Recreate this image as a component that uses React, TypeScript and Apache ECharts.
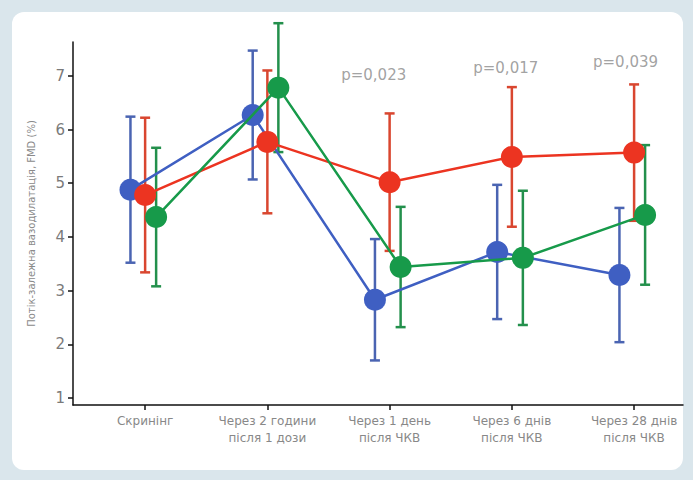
import React, { useEffect, useRef } from "react";
import * as echarts from "echarts";

const categories = [
  "Скринінг",
  "Через 2 години\nпісля 1 дози",
  "Через 1 день\nпісля ЧКВ",
  "Через 6 днів\nпісля ЧКВ",
  "Через 28 днів\nпісля ЧКВ",
];
const yTicks = [1, 2, 3, 4, 5, 6, 7];

const blueMean = [4.88, 6.27, 2.83, 3.72, 3.29];
const blueSD = [1.36, 1.2, 1.13, 1.25, 1.25];
const redMean = [4.78, 5.77, 5.02, 5.49, 5.57];
const redSD = [1.44, 1.33, 1.28, 1.3, 1.27];
const greenMean = [4.37, 6.78, 3.44, 3.61, 4.41];
const greenSD = [1.29, 1.2, 1.12, 1.25, 1.3];

const pLabels = ["p=0,023", "p=0,017", "p=0,039"];
const pCategory = [1.87, 2.95, 3.93];
const pLevel = [7.02, 7.15, 7.26];

const groups = [
  { mean: blueMean, sd: blueSD, offset: -0.12, color: "#3f5fc2", bar: "#4a64b2" },
  { mean: redMean, sd: redSD, offset: 0, color: "#ec3421", bar: "#d9462f" },
  { mean: greenMean, sd: greenSD, offset: 0.09, color: "#179a4a", bar: "#23904c" },
];

export default function App() {
  const ref = useRef<HTMLDivElement>(null);
  useEffect(() => {
    if (!ref.current) return;
    const chart = echarts.init(ref.current, null, { renderer: "svg" });
    const series: any[] = [];
    groups.forEach((g) => {
      series.push({
        type: "custom",
        z: 2,
        data: g.mean.map((m, i) => [i + g.offset, m - g.sd[i], m + g.sd[i]]),
        encode: { x: 0, y: [1, 2] },
        renderItem: (params: any, api: any) => {
          const x = api.value(0);
          const top = api.coord([x, api.value(2)]);
          const bot = api.coord([x, api.value(1)]);
          const w = 5;
          const style = { stroke: g.bar, lineWidth: 2.5 };
          return {
            type: "group",
            children: [
              { type: "line", shape: { x1: top[0], y1: top[1], x2: bot[0], y2: bot[1] }, style },
              { type: "line", shape: { x1: top[0] - w, y1: top[1], x2: top[0] + w, y2: top[1] }, style },
              { type: "line", shape: { x1: bot[0] - w, y1: bot[1], x2: bot[0] + w, y2: bot[1] }, style },
            ],
          };
        },
      });
    });
    groups.forEach((g, k) => {
      series.push({
        type: "line",
        z: 3 + k,
        data: g.mean.map((m, i) => [i + g.offset, m]),
        symbol: "circle",
        symbolSize: 22,
        lineStyle: { color: g.color, width: 2.5 },
        itemStyle: { color: g.color },
      });
    });
    series.push({
      type: "scatter",
      symbolSize: 0,
      z: 10,
      data: pLabels.map((t, i) => ({ value: [pCategory[i], pLevel[i]], name: t })),
      label: {
        show: true,
        position: "inside",
        formatter: (p: any) => p.name,
        color: "#8a8a8a",
        fontSize: 15,
        fontFamily: "DejaVu Sans",
      },
    });

    chart.setOption({
      animation: false,
      backgroundColor: "#dae6ec",
      graphic: [
        {
          type: "rect",
          z: -10,
          silent: true,
          shape: { x: 12, y: 12, width: 671, height: 458, r: 12 },
          style: { fill: "#ffffff" },
        },
      ],
      grid: { left: 73, right: 10, top: 42, bottom: 75 },
      xAxis: {
        type: "value",
        min: -0.59,
        max: 4.4,
        splitLine: { show: false },
        axisLine: { show: true, onZero: false, lineStyle: { color: "#111", width: 1.5 } },
        axisTick: { show: true, customValues: [0, 1, 2, 3, 4], length: 5, lineStyle: { color: "#111", width: 1.5 } },
        axisLabel: {
          customValues: [0, 1, 2, 3, 4],
          formatter: (v: number) => categories[Math.round(v)],
          color: "#888888",
          fontSize: 12,
          lineHeight: 17,
          fontFamily: "DejaVu Sans",
          margin: 7,
          verticalAlign: "top",
        },
      },
      yAxis: {
        type: "value",
        min: 0.87,
        max: 7.63,
        name: "Потік-залежна вазодилатація, FMD (%)",
        nameLocation: "middle",
        nameGap: 37,
        nameTextStyle: { color: "#8a8a8a", fontSize: 10, fontFamily: "DejaVu Sans" },
        splitLine: { show: false },
        axisLine: { show: true, onZero: false, lineStyle: { color: "#111", width: 1.5 } },
        axisTick: { show: true, customValues: yTicks, length: 5, lineStyle: { color: "#111", width: 1.5 } },
        axisLabel: {
          customValues: yTicks,
          color: "#7a7a7a",
          fontSize: 15,
          fontFamily: "DejaVu Sans",
          margin: 8,
        },
      },
      series,
    });
    return () => chart.dispose();
  }, []);
  return (
    <div style={{ position: "fixed", left: 0, top: 0, width: 693, height: 480 }}>
      <div ref={ref} style={{ width: 693, height: 480 }} />
    </div>
  );
}
